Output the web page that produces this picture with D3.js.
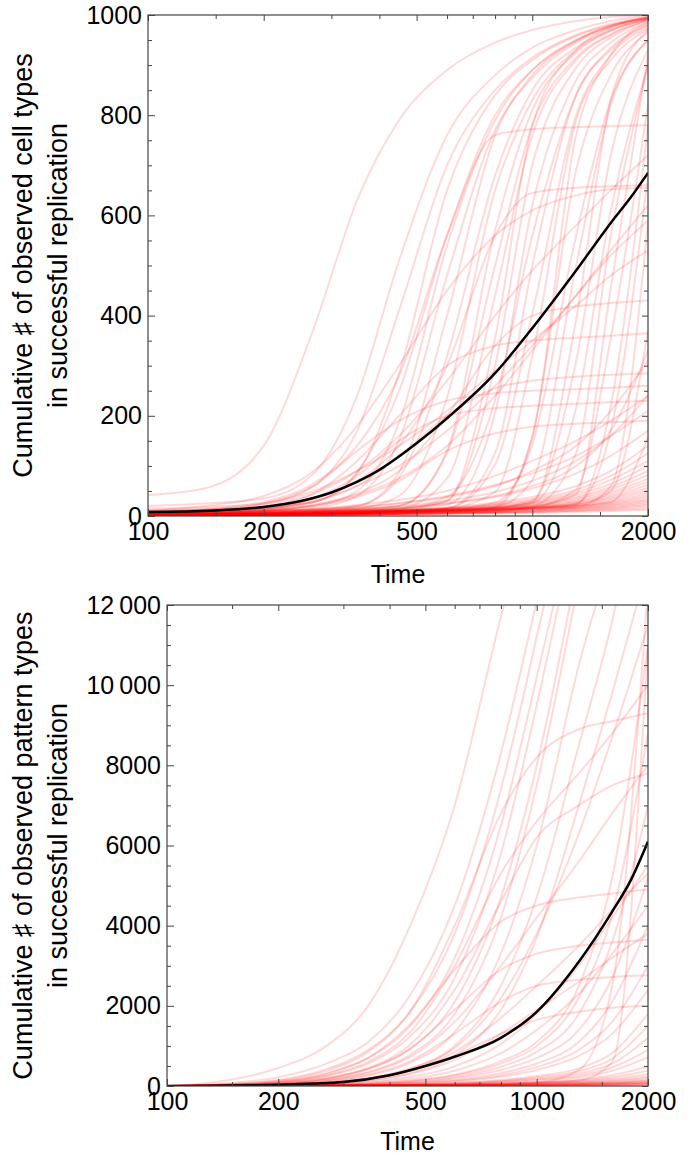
<!DOCTYPE html>
<html>
<head>
<meta charset="utf-8">
<script src="https://cdn.jsdelivr.net/npm/d3@7"></script>
<style>
  body { margin: 0; background: #fff; }
  svg text { font-family: "Liberation Sans", Arial, sans-serif; fill: #000; }
</style>
</head>
<body>
<div id="chart"></div>
<script>
// sample times of each run
var times = [100, 140, 200, 270, 350, 450, 600, 800, 1000, 1300, 1600, 2000];
// times of the averaged curve
var meanTimes = [100, 150, 200, 250, 300, 400, 500, 600, 800, 1000, 1300, 1600, 1800, 2000];

var cellMean = [8, 11, 18, 30, 47, 92, 145, 195, 285, 375, 490, 585, 635, 685];
var patternMean = [0, 10, 30, 60, 100, 270, 500, 730, 1200, 1850, 3100, 4350, 5150, 6100];

// cumulative # of observed cell types, one row per run
var cellRuns = [
  [42, 55, 140, 375, 630, 790, 890, 945, 970, 988, 996, 1000],
  [20, 25, 35, 85, 240, 510, 760, 880, 935, 970, 988, 998],
  [15, 18, 25, 60, 170, 410, 700, 850, 915, 960, 982, 996],
  [12, 14, 18, 28, 85, 285, 650, 840, 910, 958, 980, 995],
  [10, 12, 15, 20, 50, 186, 540, 790, 890, 950, 978, 994],
  [8, 10, 12, 16, 40, 151, 480, 770, 875, 945, 975, 993],
  [7, 9, 11, 14, 20, 87, 400, 760, 880, 948, 978, 995],
  [6, 8, 10, 12, 15, 40, 236, 650, 830, 930, 970, 992],
  [5, 7, 9, 11, 14, 20, 131, 570, 810, 925, 968, 992],
  [5, 6, 8, 10, 12, 15, 75, 440, 760, 910, 960, 990],
  [4, 5, 7, 9, 11, 14, 31, 300, 700, 895, 955, 988],
  [4, 5, 6, 8, 10, 13, 22, 206, 620, 870, 945, 985],
  [3, 4, 6, 8, 10, 12, 16, 126, 500, 840, 930, 980],
  [3, 4, 5, 7, 9, 11, 15, 48, 319, 790, 910, 972],
  [3, 4, 5, 7, 9, 11, 14, 22, 160, 690, 880, 965],
  [2, 3, 5, 6, 8, 10, 13, 18, 72, 500, 820, 950],
  [2, 3, 4, 6, 8, 10, 12, 17, 31, 309, 720, 930],
  [2, 3, 4, 5, 7, 9, 11, 15, 20, 126, 560, 900],
  [2, 3, 4, 5, 7, 9, 11, 14, 18, 53, 355, 820],
  [1, 2, 4, 5, 6, 8, 10, 13, 17, 25, 170, 680],
  [1, 2, 3, 5, 6, 8, 10, 12, 16, 22, 50, 370],
  [1, 2, 3, 4, 6, 7, 9, 12, 15, 20, 28, 157],
  [10, 12, 15, 28, 87, 250, 560, 800, 890, 950, 978, 994],
  [8, 9, 11, 13, 20, 77, 319, 680, 850, 935, 970, 992],
  [6, 7, 9, 11, 14, 20, 126, 500, 780, 915, 962, 990],
  [4, 5, 7, 9, 11, 13, 30, 355, 780, 930, 975, 995],
  [4, 5, 7, 9, 11, 14, 38, 232, 560, 840, 935, 980],
  [3, 4, 6, 8, 10, 12, 16, 103, 403, 800, 920, 975],
  [3, 4, 5, 7, 9, 11, 14, 18, 157, 760, 920, 985],
  [2, 3, 5, 7, 9, 11, 14, 27, 143, 560, 830, 950],
  [2, 3, 4, 6, 8, 10, 12, 16, 27, 392, 830, 970],
  [2, 3, 4, 6, 8, 10, 12, 16, 26, 216, 610, 900],
  [2, 3, 4, 5, 7, 9, 11, 14, 18, 44, 455, 920],
  [1, 2, 3, 5, 6, 8, 10, 13, 16, 23, 220, 780],
  [1, 2, 3, 4, 6, 7, 9, 11, 14, 18, 59, 586],
  [6, 14, 28, 65, 140, 280, 560, 760, 772, 776, 778, 780],
  [3, 8, 15, 35, 70, 140, 300, 560, 645, 655, 658, 660],
  [2, 6, 12, 28, 60, 120, 200, 255, 270, 278, 282, 285],
  [3, 7, 14, 35, 80, 150, 200, 215, 220, 224, 227, 230],
  [2, 5, 10, 22, 45, 90, 200, 340, 400, 418, 425, 430],
  [4, 9, 18, 45, 110, 200, 300, 340, 350, 356, 360, 365],
  [2, 5, 10, 20, 38, 70, 130, 165, 178, 184, 187, 190],
  [5, 12, 25, 60, 130, 190, 230, 245, 250, 253, 256, 260],
  [10, 20, 40, 90, 180, 300, 450, 560, 610, 640, 652, 655],
  [4, 10, 20, 45, 90, 160, 270, 400, 490, 580, 650, 720],
  [3, 7, 14, 30, 60, 100, 170, 260, 340, 440, 530, 620],
  [6, 12, 24, 50, 90, 140, 210, 290, 350, 420, 480, 530],
  [2, 5, 10, 22, 42, 75, 140, 240, 330, 440, 520, 590],
  [1, 2, 3, 5, 8, 11, 17, 27, 38, 60, 90, 140],
  [1, 2, 3, 5, 7, 10, 15, 24, 34, 52, 80, 125],
  [1, 2, 3, 5, 7, 10, 14, 22, 31, 47, 72, 110],
  [1, 2, 3, 4, 6, 9, 13, 20, 28, 43, 64, 100],
  [1, 1, 2, 4, 6, 8, 12, 18, 26, 39, 58, 90],
  [1, 1, 2, 4, 6, 8, 12, 17, 24, 36, 53, 82],
  [1, 1, 2, 4, 5, 7, 11, 16, 22, 33, 48, 74],
  [1, 1, 2, 3, 5, 7, 10, 15, 21, 30, 44, 68],
  [1, 1, 2, 3, 5, 7, 10, 14, 19, 28, 40, 62],
  [1, 1, 2, 3, 5, 6, 9, 13, 18, 26, 37, 56],
  [1, 1, 2, 3, 4, 6, 9, 12, 17, 24, 34, 51],
  [1, 1, 2, 3, 4, 6, 8, 11, 16, 22, 31, 46],
  [1, 1, 2, 3, 4, 5, 8, 11, 15, 20, 28, 42],
  [1, 1, 2, 3, 4, 5, 7, 10, 14, 19, 26, 38],
  [1, 1, 2, 2, 3, 5, 7, 9, 13, 17, 24, 34],
  [1, 1, 1, 2, 3, 4, 6, 9, 12, 16, 22, 31],
  [1, 1, 1, 2, 3, 4, 6, 8, 11, 15, 20, 28],
  [1, 1, 1, 2, 3, 4, 5, 8, 10, 14, 18, 25],
  [1, 1, 1, 2, 3, 4, 5, 7, 9, 12, 16, 22],
  [1, 1, 1, 2, 2, 3, 5, 6, 8, 11, 14, 19],
  [2, 3, 5, 8, 12, 17, 25, 38, 55, 85, 120, 170],
  [2, 3, 5, 9, 14, 20, 30, 48, 70, 110, 160, 240],
  [2, 4, 6, 11, 17, 25, 38, 60, 90, 140, 210, 310],
  [3, 5, 8, 14, 22, 32, 50, 80, 110, 150, 190, 240],
  [1, 2, 4, 7, 11, 16, 25, 40, 60, 100, 170, 330],
  [2, 4, 7, 12, 18, 26, 40, 62, 85, 120, 160, 210],
  [1, 1, 2, 3, 4, 5, 6, 7, 8, 10, 12, 15],
  [1, 1, 1, 2, 2, 3, 4, 5, 6, 8, 10, 12]
];

// cumulative # of observed pattern types, one row per run
var patternRuns = [
  [0, 120, 450, 1000, 2000, 3900, 7000, 11700, 15000, 20000, 25000, 30000],
  [0, 60, 220, 560, 1100, 2200, 4500, 8300, 12100, 17000, 22000, 27000],
  [0, 40, 150, 420, 900, 1800, 3800, 7400, 11200, 16000, 21000, 26000],
  [0, 30, 110, 320, 700, 1450, 3200, 6500, 10200, 15000, 20000, 25000],
  [0, 20, 80, 250, 560, 1200, 2700, 5800, 9500, 14500, 19000, 24000],
  [0, 15, 60, 190, 430, 900, 2100, 4700, 8000, 13200, 18000, 23000],
  [0, 10, 45, 150, 350, 750, 1800, 4200, 7500, 12600, 17000, 22000],
  [0, 8, 35, 110, 260, 560, 1350, 3300, 6000, 10500, 13500, 18000],
  [0, 6, 25, 80, 190, 420, 1000, 2500, 4700, 8500, 11600, 16000],
  [0, 5, 20, 60, 140, 310, 760, 1900, 3700, 7000, 9800, 13000],
  [0, 8, 30, 90, 200, 420, 950, 2200, 3800, 6300, 8700, 11500],
  [0, 3, 10, 30, 65, 130, 280, 620, 1100, 2500, 5200, 11000],
  [0, 25, 90, 260, 600, 1300, 3000, 5300, 6600, 7800, 8800, 10000],
  [0, 40, 130, 380, 850, 1800, 4000, 6800, 8200, 8900, 9100, 9300],
  [0, 3, 9, 26, 58, 120, 260, 560, 1000, 2200, 4300, 8800],
  [0, 20, 70, 200, 450, 1000, 2400, 4600, 6200, 7000, 7500, 7800],
  [0, 2, 8, 22, 50, 100, 220, 480, 850, 1800, 3600, 7000],
  [0, 5, 18, 52, 110, 220, 490, 1050, 1800, 3000, 4200, 5500],
  [0, 2, 7, 19, 42, 85, 190, 400, 700, 1400, 2700, 5200],
  [0, 30, 100, 300, 700, 1500, 2900, 4100, 4500, 4700, 4800, 4900],
  [0, 4, 14, 40, 86, 170, 380, 820, 1400, 2300, 3300, 4500],
  [0, 2, 6, 16, 35, 70, 150, 320, 560, 1100, 2100, 4000],
  [0, 20, 60, 180, 420, 900, 1900, 2900, 3300, 3500, 3580, 3650],
  [0, 2, 6, 15, 30, 60, 130, 270, 470, 900, 1600, 3000],
  [0, 10, 40, 120, 280, 600, 1300, 2100, 2500, 2650, 2720, 2760],
  [0, 1, 5, 13, 27, 52, 110, 230, 400, 750, 1300, 2400],
  [0, 10, 30, 80, 180, 360, 760, 1300, 1650, 1850, 1950, 2000],
  [0, 1, 4, 11, 21, 38, 76, 150, 250, 440, 820, 1800],
  [0, 1, 4, 10, 19, 34, 68, 130, 215, 370, 680, 1500],
  [0, 1, 4, 9, 17, 30, 60, 115, 185, 310, 560, 1200],
  [0, 1, 3, 8, 15, 27, 53, 100, 160, 260, 460, 900],
  [0, 1, 3, 8, 14, 24, 47, 88, 140, 220, 380, 720],
  [0, 1, 3, 6, 11, 18, 33, 60, 92, 140, 600, 11000],
  [0, 1, 3, 6, 10, 16, 30, 54, 82, 400, 2500, 12500],
  [0, 6, 20, 60, 140, 290, 650, 1300, 1900, 2600, 3200, 3800],
  [0, 8, 25, 80, 180, 380, 850, 1700, 2500, 3500, 4400, 5300],
  [0, 15, 50, 150, 330, 700, 1600, 3000, 4200, 5600, 6800, 8000],
  [0, 1, 3, 6, 11, 18, 33, 60, 95, 160, 270, 480],
  [0, 1, 2, 5, 10, 16, 29, 52, 82, 135, 220, 380],
  [0, 1, 2, 5, 9, 14, 26, 46, 72, 115, 180, 300],
  [0, 1, 2, 5, 8, 13, 23, 40, 63, 100, 150, 240],
  [0, 1, 2, 4, 7, 12, 21, 36, 55, 86, 125, 200],
  [0, 1, 2, 4, 7, 11, 19, 32, 48, 74, 105, 165],
  [0, 1, 2, 4, 6, 10, 17, 28, 42, 64, 90, 140],
  [0, 1, 2, 3, 6, 9, 15, 25, 37, 56, 78, 120],
  [0, 1, 2, 3, 5, 8, 13, 22, 32, 48, 67, 100],
  [0, 1, 1, 3, 5, 7, 12, 19, 28, 42, 58, 85],
  [0, 1, 1, 3, 4, 6, 10, 17, 25, 36, 50, 72],
  [0, 1, 1, 2, 4, 6, 9, 15, 22, 31, 43, 60],
  [0, 1, 1, 2, 3, 5, 8, 13, 19, 27, 37, 50],
  [0, 1, 1, 2, 3, 5, 7, 11, 16, 23, 31, 42],
  [0, 1, 1, 2, 3, 4, 6, 10, 14, 20, 26, 35]
];

var xTicks = [100, 200, 500, 1000, 2000];
var xMinorTicks = [150, 300, 400, 600, 700, 800, 900, 1500];
var cellTicks = [0, 200, 400, 600, 800, 1000];
var cellTickLabels = ["0", "200", "400", "600", "800", "1000"];
var patternTicks = [0, 2000, 4000, 6000, 8000, 10000, 12000];
var patternTickLabels = ["0", "2000", "4000", "6000", "8000", "10\u2009000", "12\u2009000"];

var svgWidth = 699, svgHeight = 1157;
var svg = d3.select("#chart").append("svg")
    .attr("width", svgWidth)
    .attr("height", svgHeight);

function panel(o) {
  var x = d3.scaleLog().domain([100, 2000]).range([o.left, o.right]);
  var y = d3.scaleLinear().domain([0, o.yMax]).range([o.bottom, o.top]);
  var yMinor = d3.range(0, o.yMax + 1, o.yMinorStep).filter(function (v) { return o.yTicks.indexOf(v) < 0; });

  var g = svg.append("g");
  g.append("clipPath").attr("id", o.id + "-clip")
    .append("rect")
    .attr("x", o.left).attr("y", o.top)
    .attr("width", o.right - o.left).attr("height", o.bottom - o.top);

  var line = d3.line()
    .x(function (d) { return x(d[0]); })
    .y(function (d) { return y(d[1]); })
    .curve(d3.curveMonotoneX);

  var plot = g.append("g").attr("clip-path", "url(#" + o.id + "-clip)");
  plot.selectAll(".run")
    .data(o.runs)
    .enter().append("path")
    .attr("class", "run")
    .attr("fill", "none")
    .attr("stroke", "rgba(255,0,0,0.15)")
    .attr("stroke-width", 2)
    .attr("d", function (r) { return line(times.map(function (t, i) { return [t, r[i]]; })); });

  plot.append("path")
    .datum(meanTimes.map(function (t, i) { return [t, o.mean[i]]; }))
    .attr("fill", "none")
    .attr("stroke", "#000")
    .attr("stroke-width", 2.5)
    .attr("d", line);

  // frame
  g.append("rect")
    .attr("x", o.left).attr("y", o.top)
    .attr("width", o.right - o.left).attr("height", o.bottom - o.top)
    .attr("fill", "none").attr("stroke", "#444").attr("stroke-width", 1.2);

  function axis(a, tr, size, vals, fmt) {
    var ax = g.append("g").attr("transform", tr)
      .call(a.tickValues(vals).tickSize(size).tickPadding(6).tickFormat(fmt));
    ax.select(".domain").remove();
    ax.selectAll("line").attr("stroke", "#444");
    ax.selectAll("text").attr("font-size", 25).attr("fill", "#000")
      .attr("font-family", "Liberation Sans, Arial, sans-serif");
    return ax;
  }
  var none = function () { return ""; };
  var xFmt = function (d) { return String(d); };

  axis(d3.axisBottom(x), "translate(0," + o.bottom + ")", -7, xTicks, xFmt);
  axis(d3.axisBottom(x), "translate(0," + o.bottom + ")", -4, xMinorTicks, none);
  axis(d3.axisTop(x), "translate(0," + o.top + ")", -6, xTicks, none);
  axis(d3.axisTop(x), "translate(0," + o.top + ")", -4, xMinorTicks, none);

  axis(d3.axisLeft(y), "translate(" + o.left + ",0)", -7, o.yTicks,
       function (d, i) { return o.yTickLabels[i]; });
  axis(d3.axisLeft(y), "translate(" + o.left + ",0)", -4, yMinor, none);
  axis(d3.axisRight(y), "translate(" + o.right + ",0)", -6, o.yTicks, none);
  axis(d3.axisRight(y), "translate(" + o.right + ",0)", -4, yMinor, none);

  // axis titles
  g.append("text")
    .attr("x", (o.left + o.right) / 2).attr("y", o.timeY)
    .attr("text-anchor", "middle").attr("font-size", 25)
    .text("Time");

  var cy = (o.top + o.bottom) / 2;
  o.labelLines.forEach(function (s, i) {
    g.append("text")
      .attr("transform", "translate(" + o.labelX[i] + "," + cy + ") rotate(-90)")
      .attr("text-anchor", "middle").attr("font-size", 27)
      .text(s);
  });
}

panel({
  id: "cells", left: 148, right: 648, top: 15, bottom: 516,
  yMax: 1000, yMinorStep: 50, yTicks: cellTicks, yTickLabels: cellTickLabels,
  runs: cellRuns, mean: cellMean, timeY: 583,
  labelLines: ["Cumulative \u266F of observed cell types", "in successful replication"],
  labelX: [32, 67]
});

panel({
  id: "patterns", left: 167, right: 648, top: 605, bottom: 1086,
  yMax: 12000, yMinorStep: 500, yTicks: patternTicks, yTickLabels: patternTickLabels,
  runs: patternRuns, mean: patternMean, timeY: 1150,
  labelLines: ["Cumulative \u266F of observed pattern types", "in successful replication"],
  labelX: [32, 67]
});
</script>
</body>
</html>
